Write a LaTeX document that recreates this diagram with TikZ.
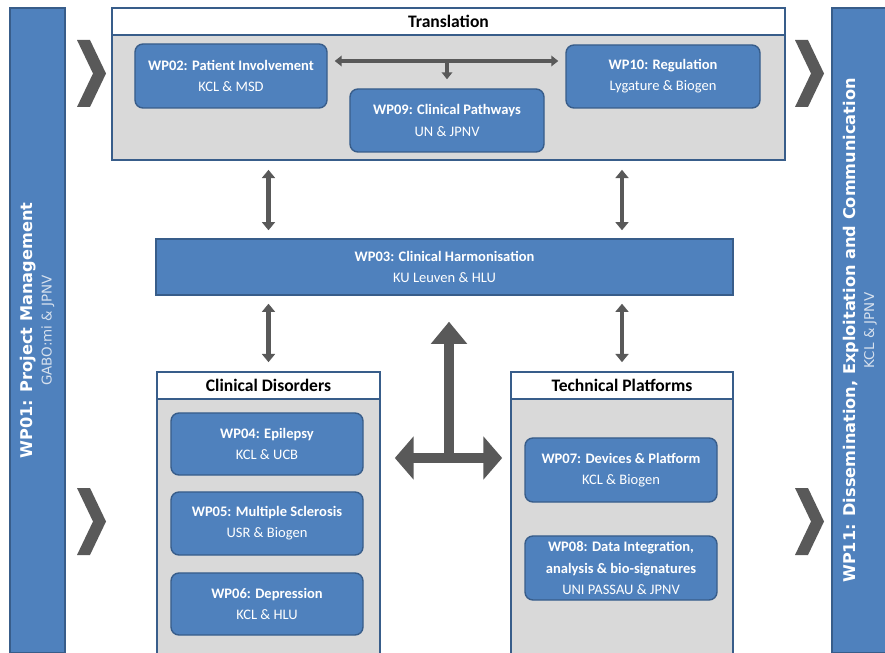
\documentclass[tikz,border=0pt]{standalone}
\usepackage{fontspec}
\setmainfont{Carlito}
\newfontfamily\sidefont{DejaVu Sans}
\usepackage{xcolor}
\usepackage{tikz}
\usetikzlibrary{positioning, arrows.meta}
\definecolor{wpBlue}{RGB}{79, 129, 189}
\definecolor{wpEdge}{RGB}{56, 93, 138}
\definecolor{wpGray}{RGB}{89, 89, 89}
\definecolor{wpLight}{RGB}{217, 217, 217}
\definecolor{wpPale}{RGB}{215, 225, 238}
\tikzset{
    base/.style={
        align=center,
        inner sep=0pt
    },
    wpbox/.style={
        base,
        rectangle,
        rounded corners=0.24cm,
        draw=wpEdge,
        line width=1.2pt,
        fill=wpBlue,
        text=white,
        font=\fontsize{12.4}{18}\selectfont,
        minimum width=5.76cm,
        minimum height=1.92cm
    },
    panel/.style={
        base,
        rectangle,
        draw=wpEdge,
        line width=1.4pt,
        fill=wpLight
    },
    panelhead/.style={
        base,
        rectangle,
        draw=wpEdge,
        line width=1.4pt,
        fill=white,
        text=black,
        font=\fontsize{15}{18}\selectfont\bfseries,
        minimum height=0.81cm
    },
    sidebar/.style={
        base,
        rectangle,
        draw=wpEdge,
        line width=1pt,
        fill=wpBlue,
        text=white,
        rotate=90,
        minimum width=19.35cm,
        font=\sidefont\fontsize{13.8}{16}\selectfont\bfseries
    },
    link/.style={
        {Triangle[width=11pt,length=7pt]}-{Triangle[width=11pt,length=7pt]},
        line width=4.2pt,
        draw=wpGray
    },
    minilink/.style={
        line width=3.4pt,
        draw=wpGray
    },
    bigflow/.style={
        line width=9pt,
        draw=wpGray
    },
    chevron/.style={
        fill=wpGray
    }
}
\begin{document}
\begin{tikzpicture}[x=0.03cm, y=-0.03cm]
  \useasboundingbox (0,0) rectangle (885,653);

  % side bars
  \node[sidebar, minimum height=1.65cm] (wp01) at (37.5,330.5)
    {WP01: Project Management\\{\mdseries\color{wpPale}\fontsize{11.5}{14}\selectfont GABO:mi \& JPNV}};
  \node[sidebar, minimum height=1.68cm] (wp11) at (860,330.5)
    {WP11: Dissemination, Exploitation and Communication\\{\mdseries\color{wpPale}\fontsize{11.5}{14}\selectfont KCL \& JPNV}};

  \foreach \x/\y in {77/40, 77/488, 795/40, 795/488}
    \fill[chevron] (\x,\y) -- ++(13,0) -- ++(16,33.5) -- ++(-16,33.5) -- ++(-13,0) -- ++(16,-33.5) -- cycle;

  % Translation
  \node[panel, minimum width=20.19cm, minimum height=4.56cm] (trans) at (448.5,84) {};
  \node[panelhead, minimum width=20.19cm] (transhead) at (448.5,21.5) {Translation};
  \node[wpbox] (wp02) at (231,76) {\textbf{WP02: Patient Involvement}\\KCL \& MSD};
  \node[wpbox, minimum width=5.82cm, minimum height=1.89cm] (wp09) at (447,120.5) {\textbf{WP09: Clinical Pathways}\\UN \& JPNV};
  \node[wpbox, minimum width=5.82cm, minimum height=1.89cm] (wp10) at (663,76.5) {\textbf{WP10: Regulation}\\Lygature \& Biogen};

  \path ([yshift=0.45cm]wp02.east) coordinate (tl);
  \coordinate (hub) at (tl -| wp09.north);
  \draw[minilink, {Triangle[width=9pt,length=6pt]}-{Triangle[width=9pt,length=6pt]}, shorten <=0.21cm, shorten >=0.21cm] (tl) -- (tl -| wp10.west);
  \draw[minilink, -{Triangle[width=9pt,length=6pt]}, shorten >=0.27cm] (hub) -- (wp09.north);

  % WP03
  \node[wpbox, sharp corners, minimum width=17.31cm, minimum height=1.68cm] (wp03) at (444.5,267) {\textbf{WP03: Clinical Harmonisation}\\KU Leuven \& HLU};

  % Clinical Disorders
  \node[panel, minimum width=6.69cm, minimum height=8.64cm] (cd) at (268.5,516) {};
  \node[panelhead, minimum width=6.69cm] (cdhead) at (268.5,385.5) {Clinical Disorders};
  \node[wpbox, minimum height=1.86cm] (wp04) at (267,444) {\textbf{WP04: Epilepsy}\\KCL \& UCB};
  \node[wpbox, minimum height=1.89cm] (wp05) at (267,523.5) {\textbf{WP05: Multiple Sclerosis}\\USR \& Biogen};
  \node[wpbox, minimum height=1.86cm] (wp06) at (267,604) {\textbf{WP06: Depression}\\KCL \& HLU};

  % Technical Platforms
  \node[panel, minimum width=6.66cm, minimum height=8.64cm] (tp) at (622,516) {};
  \node[panelhead, minimum width=6.66cm] (tphead) at (622,385.5) {Technical Platforms};
  \node[wpbox] (wp07) at (621,470) {\textbf{WP07: Devices \& Platform}\\KCL \& Biogen};
  \node[wpbox] (wp08) at (621,568) {\textbf{WP08: Data Integration,}\\\textbf{analysis \& bio-signatures}\\UNI PASSAU \& JPNV};

  % links
  \draw[link, shorten <=0.27cm, shorten >=0.24cm] (trans.south -| cdhead) -- (wp03.north -| cdhead);
  \draw[link, shorten <=0.27cm, shorten >=0.24cm] (trans.south -| tphead) -- (wp03.north -| tphead);
  \draw[link, shorten <=0.24cm, shorten >=0.27cm] (wp03.south -| cdhead) -- (cdhead.north);
  \draw[link, shorten <=0.24cm, shorten >=0.27cm] (wp03.south -| tphead) -- (tphead.north);

  \coordinate (cross) at (449,458);
  \draw[bigflow, {Triangle[width=36pt,length=16pt]}-{Triangle[width=36pt,length=16pt]}, shorten <=0.42cm, shorten >=0.24cm] (cross -| cd.east) -- (cross -| tp.west);
  \draw[bigflow, -{Triangle[width=30pt,length=19pt]}, shorten >=0.78cm] (cross) -- (cross |- wp03.south);
\end{tikzpicture}
\end{document}
